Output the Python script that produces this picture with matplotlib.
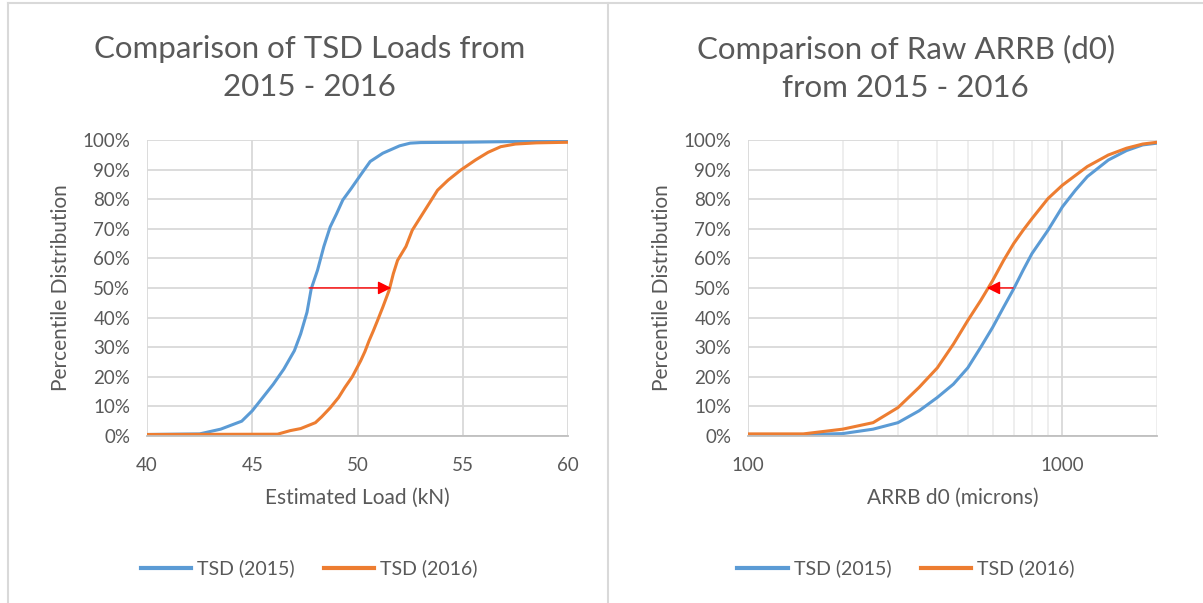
import matplotlib
matplotlib.use("Agg")
import matplotlib.pyplot as plt
from matplotlib.lines import Line2D
from matplotlib.ticker import FixedLocator, FuncFormatter, NullFormatter

plt.rcParams['font.family'] = ['Lato', 'DejaVu Sans']

# ---- data ----
# left: estimated load (kN) vs percentile (%)
load_2015 = [40, 42.5, 43.5, 44.5, 45, 45.5, 46, 46.5, 47, 47.3, 47.6, 47.8, 48.1, 48.4,
             48.7, 49.0, 49.3, 49.7, 50.2, 50.6, 51.2, 52, 52.5, 53, 55, 57, 60]
pct_load_2015 = [0.5, 0.7, 2.3, 5, 8.5, 13, 17.5, 22.6, 28.8, 34.5, 41.8, 49.7, 56, 64,
                 70.6, 75, 79.7, 83.6, 88.7, 92.7, 95.5, 98, 98.9, 99.1, 99.2, 99.4, 99.7]
load_2016 = [40, 46.2, 46.8, 47.3, 48, 48.3, 48.7, 49.1, 49.4, 49.75, 50.15, 50.35, 50.55,
             50.75, 50.95, 51.2, 51.5, 51.7, 51.9, 52.3, 52.6, 53.0, 53.4, 53.8, 54.3, 54.9,
             55.6, 56.2, 56.8, 57.5, 58.5, 60]
pct_load_2016 = [0.5, 0.6, 1.8, 2.5, 4.5, 6.5, 9.5, 13, 16.4, 20, 25.4, 28.5, 32.2,
                 35.5, 39, 43.5, 49.2, 54.8, 59.3, 64, 69.5, 74, 78.5, 83, 86.4, 89.8,
                 93.2, 95.8, 97.7, 98.6, 99, 99.2]

# right: ARRB d0 (microns) vs percentile (%)
d0 = [100, 150, 200, 250, 300, 350, 400, 450, 500, 550, 600, 650, 700, 750, 800,
      900, 1000, 1100, 1200, 1400, 1600, 1800, 2000]
pct_d0_2015 = [0.5, 0.5, 0.8, 2.3, 4.5, 8.5, 13, 17.5, 23, 30, 36.7, 43.5, 49.7, 56, 61.6,
               69.5, 77.4, 83, 87.6, 93.2, 96.4, 98.3, 98.9]
pct_d0_2016 = [0.7, 0.7, 2.3, 4.5, 9.6, 16.4, 23, 31, 39, 45.8, 52.5, 59.3, 65, 69.5, 73.4,
               80.2, 84.7, 88, 91, 94.9, 97.2, 98.6, 99.2]

# median shift arrows (from, to) at 50%
load_arrow = (47.7, 51.6)
d0_arrow = (697, 575)

series_labels = ["TSD (2015)", "TSD (2016)"]
titles = ["Comparison of TSD Loads from\n2015 - 2016",
          "Comparison of Raw ARRB (d0)\nfrom 2015 - 2016"]
xlabels = ["Estimated Load (kN)", "ARRB d0 (microns)"]

BLUE = "#5b9bd5"
ORANGE = "#ed7d31"
TXT = "#595959"
GRID = "#d9d9d9"

fig = plt.figure(figsize=(12.03, 6.03), dpi=100)

ax1 = fig.add_axes([0.1222, 0.277, 0.350, 0.491])
ax2 = fig.add_axes([0.6218, 0.277, 0.340, 0.491])


def style(ax):
    ax.set_ylim(0, 100)
    ax.yaxis.set_major_locator(FixedLocator(range(0, 101, 10)))
    ax.yaxis.set_major_formatter(FuncFormatter(lambda v, p: "%d%%" % v))
    ax.grid(True, which='major', color=GRID, lw=1.3)
    ax.set_axisbelow(True)
    for s in ['top', 'left', 'right']:
        ax.spines[s].set_visible(False)
    ax.spines['bottom'].set_color("#bfbfbf")
    ax.spines['bottom'].set_linewidth(1.3)
    ax.tick_params(length=0, labelsize=13.5, colors=TXT)
    ax.tick_params(axis='x', pad=15)
    ax.tick_params(axis='y', pad=12)
    ax.set_ylabel("Percentile Distribution", fontsize=15, color=TXT, labelpad=8)


# left chart
ax1.plot(load_2015, pct_load_2015, color=BLUE, lw=2.2)
ax1.plot(load_2016, pct_load_2016, color=ORANGE, lw=2.2)
ax1.set_xlim(40, 60)
ax1.xaxis.set_major_locator(FixedLocator([40, 45, 50, 55, 60]))
style(ax1)
ax1.set_xlabel(xlabels[0], fontsize=15, color=TXT, labelpad=10)
ax1.annotate('', xy=(load_arrow[1], 50), xytext=(load_arrow[0], 50),
             arrowprops=dict(arrowstyle='-|>', color='red', lw=1, mutation_scale=20,
                             shrinkA=0, shrinkB=0))

# right chart
ax2.plot(d0, pct_d0_2015, color=BLUE, lw=2.2)
ax2.plot(d0, pct_d0_2016, color=ORANGE, lw=2.2)
ax2.set_xscale('log')
ax2.set_xlim(100, 2000)
ax2.xaxis.set_major_locator(FixedLocator([100, 1000]))
ax2.xaxis.set_major_formatter(FuncFormatter(lambda v, p: "%d" % v))
ax2.xaxis.set_minor_locator(FixedLocator([200, 300, 400, 500, 600, 700, 800, 900, 2000]))
ax2.xaxis.set_minor_formatter(NullFormatter())
style(ax2)
ax2.tick_params(which='minor', length=0)
ax2.grid(True, which='minor', axis='x', color="#ebebeb", lw=1.2)
ax2.set_xlabel(xlabels[1], fontsize=15, color=TXT, labelpad=10)
ax2.annotate('', xy=(d0_arrow[1], 50), xytext=(d0_arrow[0], 50),
             arrowprops=dict(arrowstyle='-|>', color='red', lw=1, mutation_scale=20,
                             shrinkA=0, shrinkB=0))

# titles
fig.text(0.257, 0.887, titles[0], ha='center', va='center', fontsize=22.5, color=TXT,
         linespacing=1.45)
fig.text(0.753, 0.887, titles[1], ha='center', va='center', fontsize=22.5, color=TXT,
         linespacing=1.45)

# legends below each chart
handles = [Line2D([], [], color=BLUE, lw=3), Line2D([], [], color=ORANGE, lw=3)]
for cx in [0.257, 0.753]:
    fig.legend(handles, series_labels, loc='center', bbox_to_anchor=(cx, 0.057), ncol=2,
               frameon=False, fontsize=14, handlelength=2.6, handletextpad=0.3,
               columnspacing=1.5, labelcolor=TXT)

# chart borders
fig.add_artist(Line2D([0.007, 0.007], [0, 0.995], color="#d9d9d9", lw=1.5))
fig.add_artist(Line2D([0.505, 0.505], [0, 0.995], color="#d9d9d9", lw=1.5))
fig.add_artist(Line2D([0.007, 1], [0.995, 0.995], color="#d9d9d9", lw=1.5))

fig.savefig("out.png", dpi=100)
